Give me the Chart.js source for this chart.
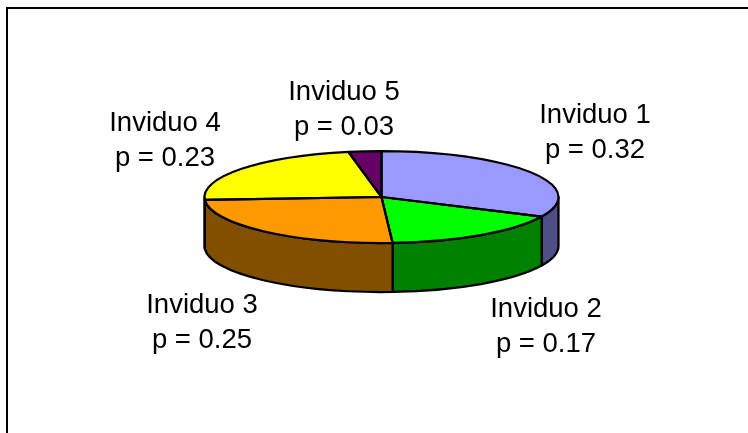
<!DOCTYPE html>
<html>
<head>
<meta charset="utf-8">
<style>
  html, body { margin: 0; padding: 0; background: #fff; overflow: hidden; }
  canvas { display: block; }
</style>
<script src="https://cdn.jsdelivr.net/npm/chart.js@4/dist/chart.umd.min.js"></script>
</head>
<body>
<canvas id="pie" width="748" height="433"></canvas>
<script>
const names = ['Inviduo 1', 'Inviduo 2', 'Inviduo 3', 'Inviduo 4', 'Inviduo 5'];
const probs = [0.32, 0.17, 0.25, 0.23, 0.03];
const topColors = ['#9999ff', '#00ff00', '#ff9900', '#ffff00', '#660066'];
const wallColors = ['#4f4f85', '#008000', '#804f00', '#804f00', '#330033'];
// label centres, in page pixels
const labelX = [595, 546, 202, 165, 344];
const labelY = [133, 327, 323, 141, 110];

const squash = 46 / 177;
const depth = 49;
const outline = 2.25;

// squashes the pie into an ellipse and draws the side wall under it
const tilt = {
  id: 'tilt',
  beforeDatasetsDraw(chart) {
    const ctx = chart.ctx;
    const arcs = chart.getDatasetMeta(0).data;
    const cy = arcs[0].y;
    const r = arcs[0].outerRadius;
    const ry = r * squash;
    ctx.save();
    ctx.lineWidth = outline;
    ctx.strokeStyle = '#000';
    ctx.lineJoin = 'round';
    arcs.forEach((arc, i) => {
      // only the front half of the rim is seen, 0..PI on the canvas
      const a0 = Math.max(arc.startAngle, 0);
      const a1 = Math.min(arc.endAngle, Math.PI);
      if (a1 <= a0) return;
      ctx.beginPath();
      ctx.ellipse(arc.x, cy, r, ry, 0, a0, a1);
      ctx.ellipse(arc.x, cy + depth, r, ry, 0, a1, a0, true);
      ctx.closePath();
      ctx.fillStyle = wallColors[i];
      ctx.fill();
      ctx.stroke();
    });
    ctx.restore();
    ctx.save();
    ctx.translate(0, cy);
    ctx.scale(1, squash);
    ctx.translate(0, -cy);
  },
  afterDatasetsDraw(chart) {
    const ctx = chart.ctx;
    ctx.restore();
    // outlines go on after the squash so the line keeps its width
    const arcs = chart.getDatasetMeta(0).data;
    ctx.save();
    ctx.lineWidth = outline;
    ctx.strokeStyle = '#000';
    ctx.lineJoin = 'round';
    arcs.forEach(arc => {
      const ry = arc.outerRadius * squash;
      ctx.beginPath();
      ctx.moveTo(arc.x, arc.y);
      ctx.ellipse(arc.x, arc.y, arc.outerRadius, ry, 0, arc.startAngle, arc.endAngle);
      ctx.closePath();
      ctx.stroke();
    });
    ctx.restore();
  }
};

const frameAndLabels = {
  id: 'frameAndLabels',
  afterDraw(chart) {
    const ctx = chart.ctx;
    ctx.save();
    ctx.strokeStyle = '#000';
    ctx.lineWidth = 2;
    ctx.beginPath();
    ctx.moveTo(7, 433);
    ctx.lineTo(7, 8);
    ctx.lineTo(748, 8);
    ctx.stroke();
    ctx.fillStyle = '#000';
    ctx.font = '27.5px "Liberation Sans"';
    ctx.textAlign = 'center';
    ctx.textBaseline = 'middle';
    names.forEach((name, i) => {
      ctx.fillText(name, labelX[i], labelY[i] - 17.5);
      ctx.fillText('p = ' + probs[i].toFixed(2), labelX[i], labelY[i] + 17.5);
    });
    ctx.restore();
  }
};

new Chart(document.getElementById('pie'), {
  type: 'pie',
  data: {
    labels: names,
    datasets: [{
      data: probs,
      backgroundColor: topColors,
      borderWidth: 0
    }]
  },
  options: {
    responsive: false,
    animation: false,
    layout: { padding: { left: 15, right: 0, top: 20, bottom: 59 } },
    plugins: { legend: { display: false }, tooltip: { enabled: false } }
  },
  plugins: [tilt, frameAndLabels]
});
</script>
</body>
</html>
